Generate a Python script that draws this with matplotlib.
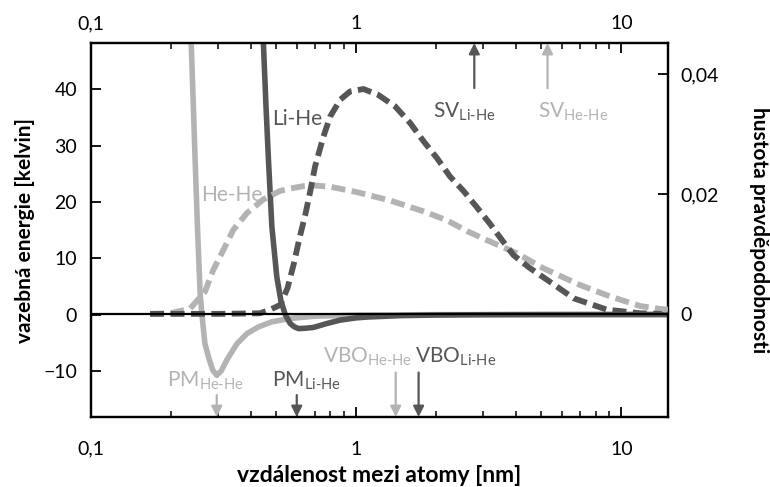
import matplotlib
matplotlib.use("Agg")
import matplotlib.pyplot as plt
from matplotlib.ticker import FixedLocator, FixedFormatter, LogLocator, NullFormatter

plt.rcParams['font.family'] = ['Lato', 'DejaVu Sans']
plt.rcParams['mathtext.fontset'] = 'custom'
plt.rcParams['mathtext.rm'] = 'Lato'
plt.rcParams['mathtext.it'] = 'Lato:italic'
plt.rcParams['mathtext.bf'] = 'Lato:bold'

LIGHT = '#b3b3b3'
DARK = '#565656'

# He-He potential (kelvin) vs distance (nm)
hehe_pot_r = [0.232, 0.236, 0.240, 0.244, 0.247, 0.252, 0.258, 0.262, 0.269, 0.2795, 0.288, 0.298,
              0.310, 0.325, 0.355, 0.387, 0.428, 0.481, 0.564, 0.70, 1.0, 2.0, 15.0]
hehe_pot_v = [70, 55, 45, 35, 27.4, 15.6, 3.7, 0, -5.2, -8.1, -9.9, -10.8,
              -10.0, -8.1, -5.2, -3.4, -2.2, -1.3, -0.7, -0.3, -0.1, -0.02, 0]

# Li-He potential (kelvin)
lihe_pot_r = [0.440, 0.447, 0.457, 0.467, 0.481, 0.502, 0.520, 0.540, 0.564, 0.585, 0.606, 0.640,
              0.690, 0.775, 0.870, 1.0, 1.1, 1.47, 2.0, 3.0, 5.0, 15.0]
lihe_pot_v = [60, 48, 37, 27.4, 15.6, 6.7, 2.5, 0, -1.6, -2.2, -2.5, -2.45,
              -2.3, -1.6, -1.0, -0.6, -0.45, -0.2, -0.1, -0.04, -0.01, 0]

# He-He probability density
hehe_den_r = [0.167, 0.200, 0.2366, 0.269, 0.289, 0.316, 0.344, 0.387, 0.447, 0.516, 0.564, 0.632,
              0.700, 0.798, 1.006, 1.343, 1.795, 2.20, 2.62, 3.11, 4.04, 5.09, 7.0, 9.08, 11.8, 14.2, 15.0]
hehe_den_d = [0.0, 0.0001, 0.0009, 0.0037, 0.0073, 0.0107, 0.0140, 0.0168, 0.0191, 0.0205, 0.0209, 0.0213,
              0.0214, 0.0212, 0.0203, 0.0189, 0.0171, 0.0156, 0.0138, 0.0123, 0.0101, 0.0076, 0.0048, 0.0029, 0.0013, 0.0008, 0.0007]

# Li-He probability density
lihe_den_r = [0.167, 0.300, 0.434, 0.474, 0.517, 0.551, 0.583, 0.611, 0.642, 0.671, 0.700, 0.753,
              0.798, 0.870, 0.949, 1.066, 1.213, 1.403, 1.60, 1.795, 2.016, 2.26, 2.54, 2.85,
              3.20, 3.55, 3.92, 4.5, 5.24, 6.61, 8.83, 11.8, 14.2]
lihe_den_d = [0.0, 0.0, 0.0001, 0.0007, 0.0015, 0.0043, 0.0085, 0.0126, 0.0164, 0.0204, 0.0246, 0.0296,
              0.0329, 0.0357, 0.0371, 0.0375, 0.0365, 0.0346, 0.0318, 0.0288, 0.0260, 0.0229, 0.0205, 0.0178,
              0.0150, 0.0123, 0.0098, 0.0077, 0.0057, 0.0026, 0.0007, 0.0001, 0.0]

# markers (nm)
pm_hehe = 0.298
pm_lihe = 0.597
vbo_hehe = 1.41
vbo_lihe = 1.72
sv_lihe = 2.79
sv_hehe = 5.27

x_ticks = [0.1, 1, 10]
x_tick_labels = ['0,1', '1', '10']
y_ticks = [-10, 0, 10, 20, 30, 40]
y_tick_labels = ['\u221210', '0', '10', '20', '30', '40']
y2_ticks = [0, 0.02, 0.04]
y2_tick_labels = ['0', '0,02', '0,04']

fig = plt.figure(figsize=(7.7, 4.87), dpi=100)
ax = fig.add_axes([0.1182, 0.1437, 0.8675 - 0.1182, 0.9117 - 0.1437])
ax2 = ax.twinx()

ax.set_xscale('log')
ax.set_xlim(0.1, 15)
ax.set_ylim(-18.2, 48.2)
ax2.set_ylim(-0.0172, 0.04517)

lw = 4.0
ax.plot(hehe_pot_r, hehe_pot_v, color=LIGHT, lw=lw, solid_capstyle='butt', solid_joinstyle='round', zorder=3)
ax.plot(lihe_pot_r, lihe_pot_v, color=DARK, lw=lw, solid_capstyle='butt', solid_joinstyle='round', zorder=3)
ax2.plot(hehe_den_r, hehe_den_d, color=LIGHT, lw=4.2, dashes=(2.4, 1.1), zorder=3)
ax2.plot(lihe_den_r, lihe_den_d, color=DARK, lw=4.2, dashes=(2.4, 1.1), zorder=3)
ax2.axhline(0, color='black', lw=1.6, zorder=5)

fs_tick = 14
ax.xaxis.set_major_locator(FixedLocator(x_ticks))
ax.xaxis.set_major_formatter(FixedFormatter(x_tick_labels))
ax.xaxis.set_minor_locator(LogLocator(base=10, subs=range(2, 10)))
ax.xaxis.set_minor_formatter(NullFormatter())
ax.set_yticks(y_ticks)
ax.set_yticklabels(y_tick_labels)
ax2.set_yticks(y2_ticks)
ax2.set_yticklabels(y2_tick_labels)

ax.tick_params(axis='x', which='both', direction='in', top=True, labeltop=False, bottom=True, labelbottom=True,
               labelsize=fs_tick, pad=17)
ax.tick_params(axis='x', which='major', length=7, width=1.3)
ax.tick_params(axis='x', which='minor', length=4, width=1.1)
ax.tick_params(axis='y', which='major', direction='in', length=7, width=1.3, labelsize=fs_tick, right=False, pad=10)
ax2.tick_params(axis='y', which='major', direction='in', length=7, width=1.3, labelsize=fs_tick, pad=9)

secx = ax.secondary_xaxis('top')
secx.xaxis.set_major_locator(FixedLocator(x_ticks))
secx.xaxis.set_major_formatter(FixedFormatter(x_tick_labels))
secx.xaxis.set_minor_locator(LogLocator(base=10, subs=range(2, 10)))
secx.xaxis.set_minor_formatter(NullFormatter())
secx.tick_params(axis='x', which='both', direction='in', length=0, labelsize=fs_tick, pad=8)
secx.spines['top'].set_visible(False)

for a in (ax, ax2):
    for s in a.spines.values():
        s.set_linewidth(1.6)

ax.set_xlabel('vzdálenost mezi atomy [nm]', fontsize=16.5, fontweight='bold', labelpad=5)
ax.set_ylabel('vazebná energie [kelvin]', fontsize=15, fontweight='bold', labelpad=6)
ax2.set_ylabel('hustota pravděpodobnosti', fontsize=15, fontweight='bold', rotation=-90, labelpad=36)

# curve labels
fs_lab = 15
ax.text(0.599, 34.7, 'Li-He', color=DARK, fontsize=fs_lab, ha='center', va='center')
ax.text(0.339, 21.2, 'He-He', color=LIGHT, fontsize=fs_lab, ha='center', va='center')

def lab(x, y, main, sub, color):
    ax.text(x, y, main + r'$_{\mathrm{' + sub + '}}$', color=color, fontsize=fs_lab, ha='left', va='baseline')

lab(1.953, 34.9, 'SV', r'Li\text{-}He', DARK)
lab(4.86, 34.9, 'SV', r'He\text{-}He', LIGHT)
lab(0.1935, -12.75, 'PM', r'He\text{-}He', LIGHT)
lab(0.482, -12.75, 'PM', r'Li\text{-}He', DARK)
lab(0.751, -8.48, 'VBO', r'He\text{-}He', LIGHT)
lab(1.67, -8.48, 'VBO', r'Li\text{-}He', DARK)

def arrow(x, y0, y1, color):
    ax.annotate('', xy=(x, y1), xytext=(x, y0),
                arrowprops=dict(arrowstyle='-|>', lw=1.6, color=color, mutation_scale=16,
                                shrinkA=0, shrinkB=0), zorder=4)

arrow(pm_hehe, -14.3, -18.2, LIGHT)
arrow(pm_lihe, -14.3, -18.2, DARK)
arrow(vbo_hehe, -10.3, -18.2, LIGHT)
arrow(vbo_lihe, -10.3, -18.2, DARK)
arrow(sv_lihe, 40.2, 48.2, DARK)
arrow(sv_hehe, 40.2, 48.2, LIGHT)

fig.savefig('out.png', dpi=100)
